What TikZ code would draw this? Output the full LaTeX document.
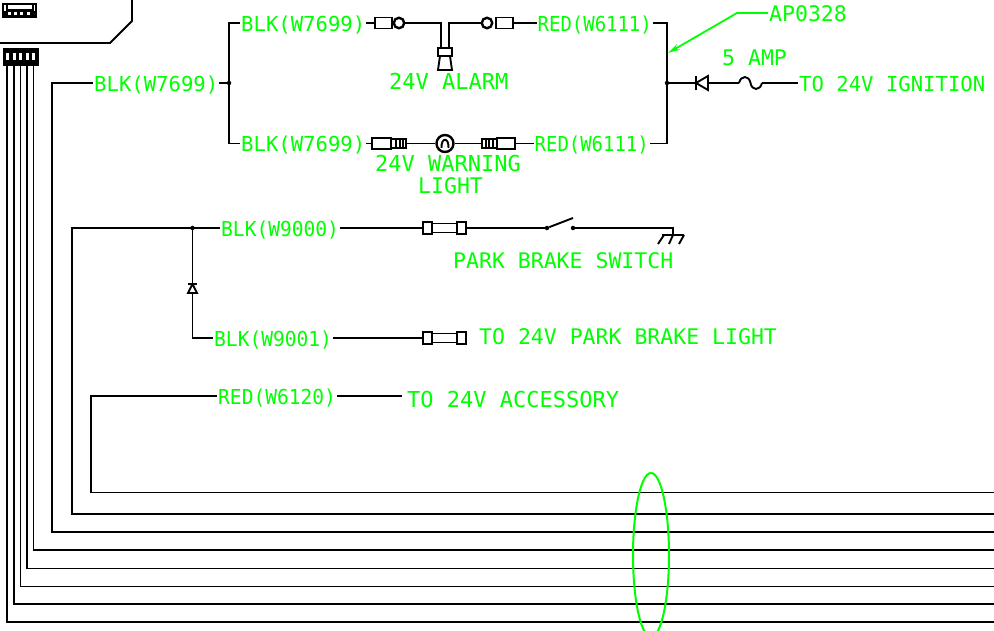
\documentclass[tikz,border=0pt]{standalone}
\usepackage{fontspec}
\usepackage{tikz}
\usetikzlibrary{arrows, arrows.meta, positioning, shapes.geometric}
\newfontfamily\wirefont{DejaVu Sans Mono}
\newfontfamily\midfont[FakeStretch=.95]{DejaVu Sans Mono}
\newfontfamily\redfont[FakeStretch=.92]{DejaVu Sans Mono}
\definecolor{cadgreen}{RGB}{0,255,0}
\tikzset{>=stealth,
	wire/.style={line width=1.9pt, black},
	lab/.style={anchor=west, inner xsep=1pt, inner ysep=0pt, text height=17pt, text depth=0pt, text=cadgreen},
	wirelab/.style={lab, font=\wirefont\fontsize{20.6}{20.6}\selectfont},
	midlab/.style={lab, font=\midfont\fontsize{20.6}{20.6}\selectfont},
	redlab/.style={lab, font=\redfont\fontsize{20.6}{20.6}\selectfont},
	txtlab/.style={lab, font=\wirefont\fontsize{21.5}{21.5}\selectfont},
	widelab/.style={lab, font=\wirefont\fontsize{22}{22}\selectfont},
	term/.style={rectangle, draw, wire, fill=white, minimum width=17pt, minimum height=11pt, inner sep=0pt},
	plug/.style={rectangle, draw, wire, fill=white, minimum width=15pt, minimum height=9pt, inner sep=0pt},
	ring/.style={circle, draw, line width=2.4pt, fill=white, minimum size=10.5pt, inner sep=0pt},
	fusecap/.style={rectangle, draw, wire, fill=white, minimum width=9pt, minimum height=11.5pt, inner sep=0pt},
	fusebody/.style={rectangle, draw, wire, fill=white, minimum width=25pt, minimum height=9pt, inner sep=0pt},
	dot/.style={circle, fill=black, minimum size=4.5pt, inner sep=0pt},
}
\begin{document}
\begin{tikzpicture}[x=1pt,y=-1pt]
		\clip (0,0) rectangle (994,631);
		\fill[white] (0,0) rectangle (994,631);
		
		\draw[wire] (0,43) -- (110,43) -- (132,21) -- (132,0);
		\draw[wire] (3,4) rectangle (36,17.5);
		\draw[wire] (7,4) rectangle (33,10);
		\fill (3,11) rectangle (36,17.5);
		\fill[white] (8,12.5) rectangle (11,15.5);
		\fill[white] (14,12.5) rectangle (17,15.5);
		\fill[white] (20,12.5) rectangle (23,15.5);
		\fill[white] (27,12.5) rectangle (30,15.5);
		\fill (3,48) rectangle (38.5,66);
		\fill[white] (6,53) rectangle (9,60);
		\fill[white] (12.5,53) rectangle (15.5,60);
		\fill[white] (19,53) rectangle (22,60);
		\fill[white] (25.5,53) rectangle (28.5,60);
		\fill[white] (32,53) rectangle (35,60);
		
		\coordinate (P1) at (7,66);
		\coordinate (P2) at (14,66);
		\coordinate (P3) at (20.5,66);
		\coordinate (P4) at (27,66);
		\coordinate (P5) at (33.5,66);
		\coordinate (E1) at (994,622);
		\coordinate (E2) at (994,604);
		\coordinate (E3) at (994,586.5);
		\coordinate (E4) at (994,568.5);
		\coordinate (E5) at (994,550);
		\coordinate (E6) at (994,532);
		\coordinate (E7) at (994,514);
		\coordinate (E8) at (994,492.5);
		\draw[wire] (P1) |- (E1);
		\draw[wire] (P2) |- (E2);
		\draw[wire] (P3) |- (E3);
		\draw[wire] (P4) |- (E4);
		\draw[wire] (P5) |- (E5);
		
		\node [wirelab] (LM) at (93,83) {BLK(W7699)};
		\node [dot] (J1) at (229,83) {};
		\node [dot] (J2) at (667,83) {};
		\node [wirelab] (LA) at (240,23) {BLK(W7699)};
		\node [wirelab] (LW) at (240,143.5) {BLK(W7699)};
		\node [redlab] (RA) at (536.5,23) {RED(W6111)};
		\node [redlab] (RW) at (533.5,143.5) {RED(W6111)};
		\draw[wire] (E6) -| (52,83) -- (LM.west);
		\draw[wire] (LM.east) -- (J1);
		\draw[wire] (J1) |- (LA.west);
		\draw[wire] (J1) |- (LW.west);
		\draw[wire] (RA.east) -| (J2);
		\draw[wire] (RW.east) -| (J2);
		
		\node [term] (T1) at (383.5,23) {};
		\node [ring] (O1) at (399,23) {};
		\node [ring] (O2) at (487,23) {};
		\node [term] (T2) at (504.5,23) {};
		\node [rectangle, draw, wire, fill=white, minimum width=14pt, minimum height=8pt, inner sep=0pt] (H) at (445,52) {};
		\draw[wire] (LA.east) -- (T1);
		\draw[wire] (O1) -| (441,48);
		\draw[wire] (O2) -| (449,48);
		\draw[wire] (T2) -- (RA.west);
		\draw[wire] (440,56) -- (438,70) -- (452,70) -- (450,56);
		\node [widelab] (AL) at (388,81) {24V ALARM};
		
		\node [term, minimum width=19pt] (T3) at (381.5,143.5) {};
		\node [plug] (G1) at (398.5,143.5) {};
		\node [circle, draw, line width=2.4pt, fill=white, minimum size=17pt, inner sep=0pt] (LP) at (445,143.5) {};
		\node [plug] (G2) at (489.5,143.5) {};
		\node [term, minimum width=18pt] (T4) at (506,143.5) {};
		\draw[wire] (LW.east) -- (T3);
		\draw[wire] (G1) -- (LP);
		\draw[wire] (LP) -- (G2);
		\draw[wire] (T4) -- (RW.west);
		\draw[wire] (396,139) -- (396,148) (400,139) -- (400,148) (403,139) -- (403,148);
		\draw[wire] (486,139) -- (486,148) (489,139) -- (489,148) (493,139) -- (493,148);
		\draw[wire] (441.5,148) .. controls (441,137) and (449,137) .. (448.5,148);
		\node [widelab] (WL1) at (374,163) {24V WARNING};
		\node [txtlab] (WL2) at (417,185) {LIGHT};
		
		\coordinate (DA) at (696,83);
		\coordinate (DB) at (708,83);
		\coordinate (SA) at (739,83);
		\coordinate (SB) at (762,83);
		\node [wirelab] (IG) at (798,83) {TO 24V IGNITION};
		\draw[wire] (J2) -- (DA);
		\draw[wire] (696,76) -- (696,90);
		\draw[wire] (DA) -- (708,76) -- (708,90) -- cycle;
		\draw[wire] (DB) -- (SA);
		\draw[wire] (SA) .. controls (741,75) and (749,75) .. (750.5,83) .. controls (752,91) and (760,91) .. (SB);
		\draw[wire] (SB) -- (IG.west);
		\node [txtlab] (AMP) at (721,57) {5 AMP};
		\node [txtlab] (AP) at (768,13) {AP0328};
		\draw[cadgreen, line width=1.8pt, -{Stealth[length=12pt,width=6pt]}] (AP.west) -- (737,13) -- (668,53);
		
		\node [dot] (J3) at (192.5,228) {};
		\node [midlab] (L9) at (220,228) {BLK(W9000)};
		\node [fusecap] (F1) at (427.5,228) {};
		\node [fusebody] (F2) at (444.5,228) {};
		\node [fusecap] (F3) at (461.5,228) {};
		\node [dot] (S1) at (547,228) {};
		\node [dot] (S2) at (573,228) {};
		\coordinate (GD) at (673,235);
		\draw[wire] (E7) -| (72,228) -- (L9.west);
		\draw[wire] (L9.east) -- (F1);
		\draw[wire] (F3) -- (S1);
		\draw[wire] (S1) -- (573,218);
		\draw[wire] (S2) -| (GD);
		\draw[wire] (662,235) -- (684,235);
		\draw[wire] (664,235) -- (658,244);
		\draw[wire] (673,235) -- (669,244);
		\draw[wire] (684,235) -- (679,244);
		\node [txtlab] (PB) at (452,260) {PARK BRAKE SWITCH};
		
		\coordinate (DC) at (192.5,284);
		\coordinate (DD) at (192.5,293);
		\node [midlab] (L1) at (213,338) {BLK(W9001)};
		\node [fusecap] (F4) at (427.5,338) {};
		\node [fusebody] (F5) at (444.5,338) {};
		\node [fusecap] (F6) at (461.5,338) {};
		\node [txtlab] (PL) at (478,336) {TO 24V PARK BRAKE LIGHT};
		\draw[wire] (J3) -- (DC);
		\draw[wire] (188,284) -- (197,284);
		\draw[wire] (DC) -- (197,293) -- (188,293) -- cycle;
		\draw[wire] (DD) |- (L1.west);
		\draw[wire] (L1.east) -- (F4);
		
		\node [midlab] (L6) at (217,396) {RED(W6120)};
		\node [widelab] (AC) at (406,399) {TO 24V ACCESSORY};
		\coordinate (AE) at (402,396);
		\draw[wire] (E8) -| (91,396) -- (L6.west);
		\draw[wire] (L6.east) -- (AE);
		
		\node [ellipse, draw=cadgreen, line width=2pt, minimum width=36pt, minimum height=164pt, inner sep=0pt] (BD) at (651,555) {};
		\end{tikzpicture}
\end{document}
